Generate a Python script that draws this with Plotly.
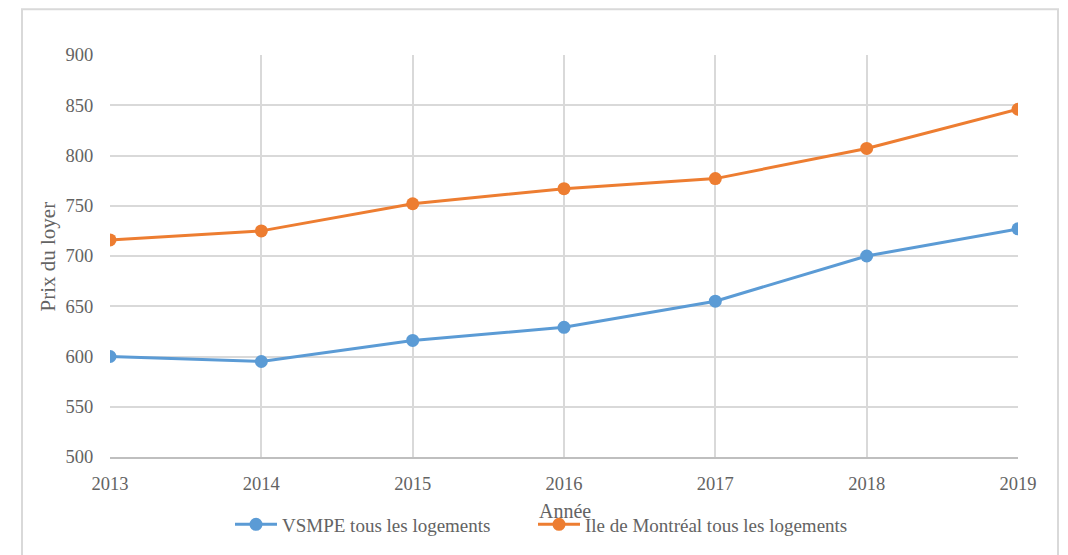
import plotly.graph_objects as go

years = [2013, 2014, 2015, 2016, 2017, 2018, 2019]
vsmpe = [600, 595, 616, 629, 655, 700, 727]
montreal = [716, 725, 752, 767, 777, 807, 846]
series_names = ["VSMPE tous les logements", "Ile de Montréal tous les logements"]
y_ticks = [500, 550, 600, 650, 700, 750, 800, 850, 900]

FONT = "Liberation Serif"
GRAY = "#636363"
OFF = 8  # page body margin
W, H = 1068 - OFF, 555 - OFF
L, R, T, B = 110 - OFF, 1068 - 1018, 55 - OFF, 555 - 460
PW, PH = 1018 - 110, 460 - 55

def px(xpage):
    return (xpage - 110) / PW

def py(ypage):
    return (460 - ypage) / PH

fig = go.Figure()
fig.add_trace(go.Scatter(x=years, y=vsmpe, name=series_names[0], mode="lines+markers",
                         line=dict(color="#5B9BD5", width=3),
                         marker=dict(color="#5B9BD5", size=13), legend="legend"))
fig.add_trace(go.Scatter(x=years, y=montreal, name=series_names[1], mode="lines+markers",
                         line=dict(color="#ED7D31", width=3),
                         marker=dict(color="#ED7D31", size=13), legend="legend2"))

leg_common = dict(orientation="h", xref="paper", yref="paper", xanchor="left",
                  yanchor="middle", y=py(528), itemwidth=42,
                  font=dict(family=FONT, size=19, color=GRAY), bgcolor="rgba(0,0,0,0)")

fig.update_layout(
    width=W, height=H,
    margin=dict(l=L, r=R, t=T, b=B),
    paper_bgcolor="white", plot_bgcolor="white",
    font=dict(family=FONT, color=GRAY, size=18),
    showlegend=True,
    legend=dict(x=px(230), **leg_common),
    legend2=dict(x=px(533), **leg_common),
    xaxis=dict(range=[2013, 2019], tickvals=years, ticktext=[str(y) for y in years],
               showgrid=True, gridcolor="#d9d9d9", gridwidth=2,
               showline=True, linecolor="#bfbfbf", linewidth=2,
               ticks="outside", ticklen=9, tickcolor="rgba(0,0,0,0)",
               tickfont=dict(size=18.5),
               zeroline=False, fixedrange=True),
    yaxis=dict(range=[500, 900], tickvals=y_ticks,
               showgrid=True, gridcolor="#d9d9d9", gridwidth=2,
               showline=False, zeroline=False,
               ticks="outside", ticklen=12, tickcolor="rgba(0,0,0,0)",
               tickfont=dict(size=18.5),
               fixedrange=True),
    annotations=[
        dict(text="Année", xref="paper", yref="paper", x=px(565), y=py(514),
             xanchor="center", yanchor="middle", showarrow=False,
             font=dict(family=FONT, size=20, color=GRAY)),
        dict(text="Prix du loyer", xref="paper", yref="paper", x=px(48), y=py(258),
             xanchor="center", yanchor="middle", showarrow=False, textangle=-90,
             font=dict(family=FONT, size=21, color=GRAY)),
    ],
    shapes=[dict(type="rect", xref="paper", yref="paper",
                 x0=px(22), x1=px(1058), y0=py(570), y1=py(9),
                 line=dict(color="#d9d9d9", width=2), fillcolor="rgba(0,0,0,0)", layer="below")],
)

fig.write_html("out.html")
